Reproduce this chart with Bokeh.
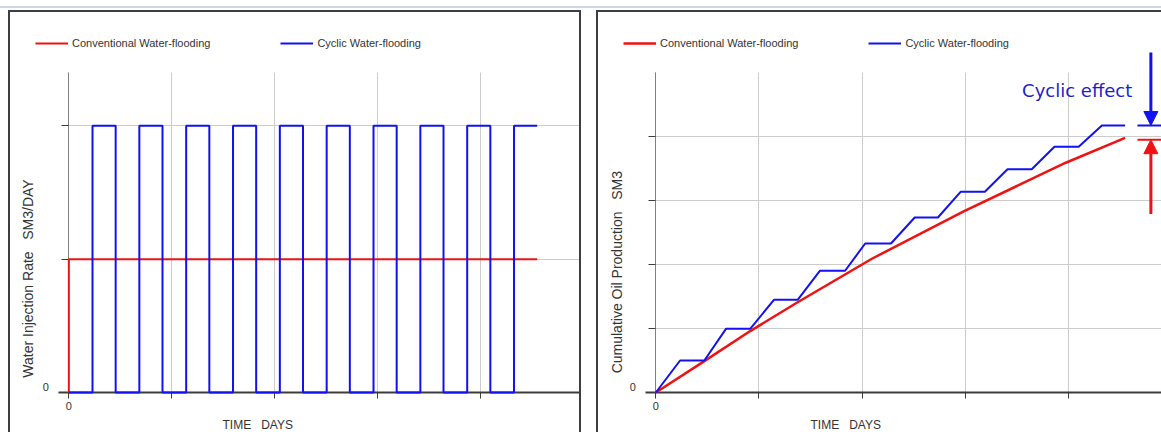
from math import pi

from bokeh.embed import file_html
from bokeh.layouts import row
from bokeh.models import Arrow, FixedTicker, Label, Legend, LegendItem, NormalHead, Range1d, Title
from bokeh.plotting import figure
from bokeh.resources import INLINE

# ---- water injection schedule (days, SM3/DAY) ----
cyc_switch_days = [0, 46, 91, 137, 182, 228, 273, 319, 364, 410, 455,
                   501, 546, 592, 637, 683, 728, 774, 819, 865, 910]
cyc_rate = [0, 2000, 0, 2000, 0, 2000, 0, 2000, 0, 2000, 0,
            2000, 0, 2000, 0, 2000, 0, 2000, 0, 2000, 2000]
conv_days = [0, 0, 910]
conv_rate = [0, 1000, 1000]

# ---- cumulative oil production (days, SM3) ----
cyc_cum_days = [0, 47, 94, 136, 183, 229, 275, 318, 367, 406, 456,
                502, 547, 591, 638, 682, 729, 773, 820, 865, 910]
cyc_cum_oil = [0, 50000, 50000, 99500, 99500, 144800, 144800, 190200, 190200,
               232800, 232800, 273400, 273400, 313600, 313600, 348900, 348900,
               383900, 383900, 417200, 417200]
conv_cum_days = [0, 94, 183, 275, 419, 597, 795, 910]
conv_cum_oil = [0, 49000, 96000, 141000, 209000, 283000, 359000, 398000]

# end-of-run levels marked beside the curves
cyc_end_mark = 417200
conv_end_mark = 395000

x_ticks = [0, 200, 400, 600, 800, 1000]
rate_ticks = [0, 1000, 2000]
oil_ticks = [0, 100000, 200000, 300000, 400000]

RED = "#f01212"
BLUE = "#1212f0"
FONT = "Liberation Sans"
TXT = "#333333"
PANEL_BORDER = "2px solid #3e3e3e"
GAP = "\u00a0\u00a0\u00a0"


def make_panel(x_start, y_range, y_ticks, y_top, zero_label_y):
    p = figure(width=573, height=426, output_backend="svg", toolbar_location=None,
               x_range=Range1d(x_start, 1000), y_range=y_range,
               min_border_left=8, min_border_right=0,
               min_border_top=0, min_border_bottom=46,
               background_fill_color="white", border_fill_color="white",
               outline_line_color=None,
               styles={"border": PANEL_BORDER})
    p.xaxis.ticker = FixedTicker(ticks=x_ticks)
    p.yaxis.ticker = FixedTicker(ticks=y_ticks)
    p.xaxis.major_label_overrides = {t: "" for t in x_ticks if t != 0}
    # the y axis sits at day 0 inside the frame; its "0" is written separately
    p.yaxis.major_label_overrides = {t: "" for t in y_ticks}
    p.yaxis.fixed_location = 0
    p.yaxis.bounds = (0, y_top)
    p.xaxis.bounds = (-20, 1000)
    for ax in (p.xaxis, p.yaxis):
        ax.minor_tick_line_color = None
        ax.major_label_text_font = FONT
        ax.major_label_text_font_size = "11px"
        ax.major_label_text_color = TXT
    p.xaxis.axis_line_color = "#3c3c3c"
    p.xaxis.axis_line_width = 2
    p.xaxis.major_tick_line_color = "#3c3c3c"
    p.xaxis.major_tick_out = 6
    p.xaxis.major_tick_in = 0
    p.xaxis.major_label_standoff = 3
    p.yaxis.axis_line_color = "#808080"
    p.yaxis.major_tick_line_color = "#3c3c3c"
    p.yaxis.major_tick_out = 7
    p.yaxis.major_tick_in = 0
    p.yaxis.major_label_standoff = 0
    p.grid.grid_line_color = "#cccccc"
    p.grid.grid_line_width = 1
    p.xgrid.cross_bounds = (0, y_top)
    p.ygrid.cross_bounds = (0, 1000)
    # "0" beside the y axis, kept just above the frame's lower edge
    p.add_layout(Label(x=0, y=zero_label_y, x_offset=-20, text="0", text_align="right",
                       text_baseline="middle", text_font=FONT,
                       text_font_size="11px", text_color=TXT))
    return p


def add_legend(p, r_conv, r_cyc):
    legend = Legend(items=[LegendItem(label="Conventional Water-flooding", renderers=[r_conv]),
                           LegendItem(label="Cyclic Water-flooding", renderers=[r_cyc])],
                    orientation="horizontal", location=(17, 339),
                    glyph_width=33, glyph_height=20, label_height=20,
                    label_standoff=4, spacing=70, padding=0, margin=0,
                    label_text_font=FONT, label_text_font_size="11px",
                    label_text_color=TXT,
                    background_fill_alpha=0, border_line_alpha=0)
    p.add_layout(legend)


def axis_titles(p, y_text, y_pos):
    p.add_layout(Label(x=y_pos[0], y=y_pos[1], text=y_text, angle=pi / 2,
                       text_align="center", text_baseline="middle",
                       text_font=FONT, text_font_size="14px", text_color=TXT))
    p.add_layout(Title(text="TIME" + GAP + "DAYS", align="left", offset=204,
                       standoff=6, text_font=FONT, text_font_size="12px",
                       text_font_style="normal", text_color=TXT), "below")


# ---- left: water injection rate ----
p1 = make_panel(-97.8, Range1d(0, 2850), rate_ticks, 2400, 40)
p1.margin = (2, 0, 0, 8)
r1c = p1.line(conv_days, conv_rate, line_color=RED, line_width=2, level="overlay")
r1y = p1.step(cyc_switch_days, cyc_rate, mode="after", line_color=BLUE,
              line_width=2, level="overlay")
add_legend(p1, r1c, r1y)
axis_titles(p1, "Water Injection Rate" + GAP + "SM3/DAY", (-80, 855))

# ---- right: cumulative oil production ----
p2 = make_panel(-95.7, Range1d(0, 593750), oil_ticks, 500000, 8300)
p2.margin = (2, 0, 0, 15)
r2c = p2.line(conv_cum_days, conv_cum_oil, line_color=RED, line_width=2.5, level="overlay")
r2y = p2.line(cyc_cum_days, cyc_cum_oil, line_color=BLUE, line_width=2, level="overlay")
add_legend(p2, r2c, r2y)
axis_titles(p2, "Cumulative Oil Production" + GAP + "SM3", (-76, 188000))

# cyclic effect annotation: level marks and arrows pointing at the gap
p2.segment(x0=[934], x1=[985], y0=[cyc_end_mark], y1=[cyc_end_mark],
           line_color=BLUE, line_width=2)
p2.segment(x0=[934], x1=[985], y0=[conv_end_mark], y1=[conv_end_mark],
           line_color=RED, line_width=2)
p2.add_layout(Arrow(x_start=960, y_start=531300, x_end=960, y_end=cyc_end_mark,
                    line_color=BLUE, line_width=3,
                    end=NormalHead(size=14, fill_color=BLUE, line_color=BLUE)))
p2.add_layout(Arrow(x_start=960, y_start=279000, x_end=960, y_end=conv_end_mark,
                    line_color=RED, line_width=3,
                    end=NormalHead(size=14, fill_color=RED, line_color=RED)))
p2.add_layout(Label(x=924, y=471800, text="Cyclic effect", text_align="right",
                    text_baseline="middle", text_font="DejaVu Sans",
                    text_font_size="18px", text_color="#1e1ec8"))

layout = row(p1, p2, margin=(6, 0, 0, 0),
             styles={"border-top": "2px solid #d0d5e6"})

with open("out.html", "w") as f:
    f.write(file_html(layout, INLINE))
